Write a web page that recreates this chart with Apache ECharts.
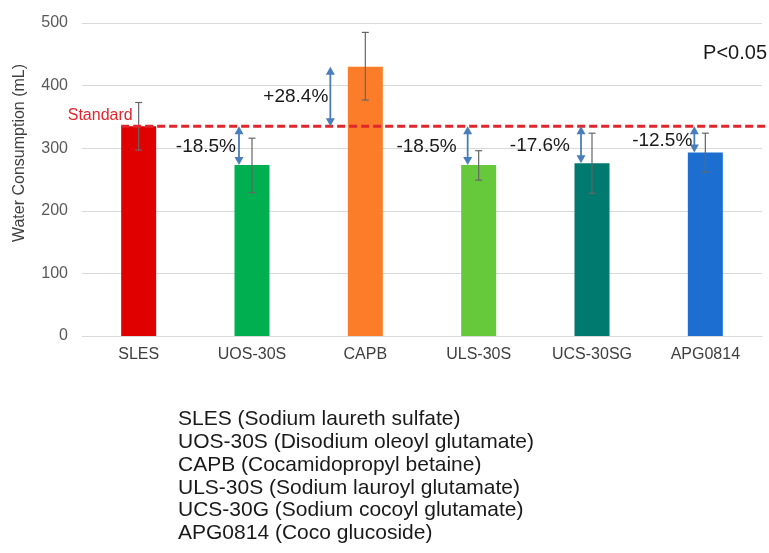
<!DOCTYPE html>
<html>
<head>
<meta charset="utf-8">
<script src="https://cdn.jsdelivr.net/npm/echarts@6/dist/echarts.min.js"></script>
<style>
  html, body { margin: 0; padding: 0; background: #ffffff; }
  #chart { width: 769px; height: 553px; }
</style>
</head>
<body>
<div id="chart"></div>
<script>
// Surfactant samples and mean water consumption (mL)
const categories = ['SLES', 'UOS-30S', 'CAPB', 'ULS-30S', 'UCS-30SG', 'APG0814'];
const waterUse = [335, 273, 430, 273, 276, 293];
// Error bar range (lower, upper) for each sample
const errorLow = [297, 229, 377, 249, 228, 262];
const errorHigh = [373, 316, 485, 296, 324, 324];
// Reference level set by SLES
const standardValue = 335;
// Change relative to the standard
const changeLabels = ['', '-18.5%', '+28.4%', '-18.5%', '-17.6%', '-12.5%'];
// Value axis ticks
const yTicks = [0, 100, 200, 300, 400, 500];
// Abbreviation key shown under the chart
const legendLines = [
  'SLES (Sodium laureth sulfate)',
  'UOS-30S (Disodium oleoyl glutamate)',
  'CAPB (Cocamidopropyl betaine)',
  'ULS-30S (Sodium lauroyl glutamate)',
  'UCS-30G (Sodium cocoyl glutamate)',
  'APG0814 (Coco glucoside)'
];

// Styling
const barColors = ['#e00000', '#00b050', '#fb7d2a', '#66c93c', '#00796f', '#1c6fd1'];
const arrowShift = [0, -13, -35, -11, -11, -11];   // px from bar centre
const labelGap = [0, 3, 2, 11, 11, 2];              // px between label and arrow
const BAR_W = 35;
const FONT = '"Liberation Sans", Arial, Helvetica, sans-serif';
const ARROW_COLOR = '#4a7ebb';
const STD_COLOR = '#e0262b';

const chart = echarts.init(document.getElementById('chart'), null, { renderer: 'canvas' });

function arrowHead(x, y, dir) {
  // dir = -1 points up, +1 points down
  return {
    type: 'polygon',
    shape: { points: [[x, y], [x - 4.5, y - dir * 8], [x + 4.5, y - dir * 8]] },
    style: { fill: ARROW_COLOR }
  };
}

const option = {
  animation: false,
  backgroundColor: '#ffffff',
  grid: { left: 82, right: 7, top: 23, bottom: 217, containLabel: false },
  xAxis: {
    type: 'category',
    data: categories,
    axisLine: { show: true, lineStyle: { color: '#d9d9d9', width: 1 } },
    axisTick: { show: false },
    axisLabel: { color: '#404040', fontSize: 16, fontFamily: FONT, margin: 11 }
  },
  yAxis: {
    type: 'value',
    min: yTicks[0],
    max: yTicks[yTicks.length - 1],
    interval: yTicks[1] - yTicks[0],
    axisLine: { show: false },
    axisTick: { show: false },
    splitLine: { lineStyle: { color: '#d9d9d9', width: 1 } },
    axisLabel: { color: '#595959', fontSize: 16, fontFamily: FONT, margin: 14 }
  },
  graphic: [
    {
      type: 'text',
      x: 20, y: 153,
      rotation: Math.PI / 2,
      style: {
        text: 'Water Consumption (mL)',
        fill: '#404040',
        font: '16px ' + FONT,
        align: 'center',
        verticalAlign: 'middle'
      }
    },
    {
      type: 'text',
      right: 2, top: 43,
      style: { text: 'P<0.05', fill: '#1a1a1a', font: '20px ' + FONT }
    },
    {
      type: 'text',
      left: 178, top: 408,
      style: {
        text: legendLines.join('\n'),
        fill: '#1a1a1a',
        font: '21px ' + FONT,
        lineHeight: 22.8
      }
    }
  ],
  series: [
    {
      type: 'bar',
      data: waterUse.map((v, i) => ({ value: v, itemStyle: { color: barColors[i] } })),
      barWidth: BAR_W,
      z: 2
    },
    {
      // Error bars
      type: 'custom',
      z: 3,
      data: categories.map((c, i) => [i, errorLow[i], errorHigh[i]]),
      renderItem(params, api) {
        const lo = api.coord([api.value(0), api.value(1)]);
        const hi = api.coord([api.value(0), api.value(2)]);
        const x = lo[0];
        const cap = 3.5;
        const st = { stroke: '#666666', lineWidth: 1.2 };
        return {
          type: 'group',
          children: [
            { type: 'line', shape: { x1: x, y1: lo[1], x2: x, y2: hi[1] }, style: st },
            { type: 'line', shape: { x1: x - cap, y1: lo[1], x2: x + cap, y2: lo[1] }, style: st },
            { type: 'line', shape: { x1: x - cap, y1: hi[1], x2: x + cap, y2: hi[1] }, style: st }
          ]
        };
      }
    },
    {
      // Standard reference line
      type: 'custom',
      z: 4,
      data: [[0, standardValue]],
      renderItem(params, api) {
        const p = api.coord([api.value(0), api.value(1)]);
        const x0 = p[0] - BAR_W / 2;
        return {
          type: 'group',
          children: [
            {
              type: 'line',
              shape: { x1: x0, y1: p[1], x2: api.getWidth(), y2: p[1] },
              style: { stroke: STD_COLOR, lineWidth: 3, lineDash: [8, 4] }
            },
            {
              type: 'text',
              style: {
                text: 'Standard',
                x: p[0] - 6, y: p[1] - 11,
                align: 'right', verticalAlign: 'middle',
                fill: STD_COLOR, font: '16px ' + FONT
              }
            }
          ]
        };
      }
    },
    {
      // Difference arrows and percentage labels
      type: 'custom',
      z: 5,
      data: categories.map((c, i) => [i, standardValue, waterUse[i]]).slice(1),
      renderItem(params, api) {
        const idx = api.value(0);
        const a = api.coord([idx, api.value(1)]);
        const b = api.coord([idx, api.value(2)]);
        const x = a[0] + arrowShift[idx];
        const up = b[1] < a[1];
        const yTop = Math.min(a[1], b[1]);
        const yBot = Math.max(a[1], b[1]);
        return {
          type: 'group',
          children: [
            {
              type: 'line',
              shape: { x1: x, y1: yTop + 4, x2: x, y2: yBot - 4 },
              style: { stroke: ARROW_COLOR, lineWidth: 1.8 }
            },
            arrowHead(x, yTop, -1),
            arrowHead(x, yBot, 1),
            {
              type: 'text',
              style: {
                text: changeLabels[idx],
                x: x - labelGap[idx],
                y: (yTop + yBot) / 2 + (up ? 0 : 1),
                align: 'right', verticalAlign: 'middle',
                fill: '#1a1a1a', font: '19px ' + FONT
              }
            }
          ]
        };
      }
    }
  ]
};

chart.setOption(option);
</script>
</body>
</html>
